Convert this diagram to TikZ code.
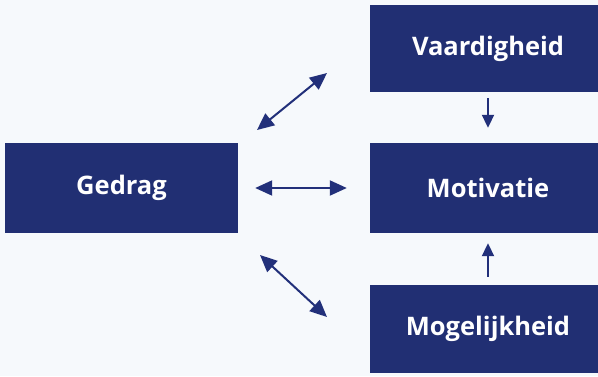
\documentclass[tikz,border=0pt]{standalone}
\usepackage{fontspec}
\setmainfont{Open Sans}
\usepackage{tikz}
\usetikzlibrary{arrows.meta}
\definecolor{navy}{HTML}{212F73}
\definecolor{paper}{HTML}{F6F9FC}
\definecolor{arrowblue}{HTML}{22307A}
\tikzset{
  box/.style={fill=navy, text=white, font=\fontsize{25.5}{30}\selectfont\bfseries, inner sep=0pt},
  link/.style={draw=arrowblue, line width=2pt, {Triangle[length=17pt,width=15pt]}-{Triangle[length=17pt,width=15pt]}},
  step link/.style={draw=arrowblue, line width=2pt, -{Triangle[length=13pt,width=12pt]}},
}

\begin{document}
\begin{tikzpicture}[x=1pt, y=-1pt]
\useasboundingbox (0,0) rectangle (598,376);
\clip (0,0) rectangle (598,376);
\fill[paper] (0,0) rectangle (598,376);

% blocks
\node[box, minimum width=233pt, minimum height=90pt] (gedrag) at (121.5,188) {Gedrag};
\node[box, minimum width=236pt, minimum height=87pt] (vaardigheid) at (488,48.5) {Vaardigheid};
\node[box, minimum width=236pt, minimum height=90pt] (motivatie) at (488,188) {Motivatie};
\node[box, minimum width=236pt, minimum height=88pt] (mogelijkheid) at (488,329) {Mogelijkheid};

% free ends of the slanted arrows
\coordinate (upA) at (257,130);
\coordinate (upB) at (327,73);
\coordinate (downA) at (260,255);
\coordinate (downB) at (327,317);

% arrows
\draw[link] (upA) -- (upB);
\draw[link, shorten <=17pt, shorten >=23pt] (gedrag.east) -- (motivatie.west |- gedrag.east);
\draw[link] (downA) -- (downB);
\draw[step link, shorten <=6pt, shorten >=15pt] (vaardigheid.south) -- (motivatie.north);
\draw[step link, shorten <=8pt, shorten >=10pt] (mogelijkheid.north) -- (motivatie.south);
\end{tikzpicture}
\end{document}
